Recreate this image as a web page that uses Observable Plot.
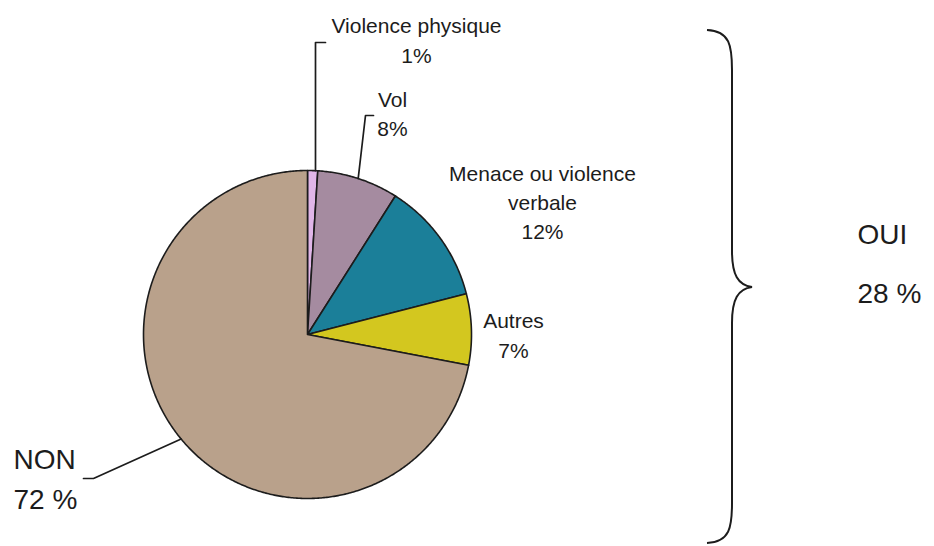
<!DOCTYPE html>
<html><head><meta charset="utf-8">
<script src="https://cdn.jsdelivr.net/npm/d3@7"></script>
<script src="https://cdn.jsdelivr.net/npm/@observablehq/plot@0.6"></script>
<style>html,body{margin:0;padding:0;background:#fff}</style>
</head><body><div id="chart"></div>
<script>
// ---- data ----
const categories = ["Violence physique", "Vol", "Menace ou violence verbale", "Autres", "NON"];
const values = [1, 8, 12, 7, 72];
const labelLines = [["Violence physique", "1%"], ["Vol", "8%"], ["Menace ou violence", "verbale", "12%"], ["Autres", "7%"], ["NON", "72 %"]];
const groupLabel = ["OUI", "28 %"];
const colors = ["#e0b6e8", "#a58ba0", "#1b7f99", "#d3c71f", "#b9a18b"];

// ---- layout (pixels) ----
const W = 934, H = 546, CX = 307, CY = 334, R = 164;
const labelLayout = [
  {x: 416, y: 32, lh: 30, big: false},
  {x: 392, y: 106, lh: 29, big: false},
  {x: 542, y: 180, lh: 29, big: false},
  {x: 513, y: 327, lh: 30, big: false},
  {x: 13, y: 468, lh: 40, big: true}
];
const groupLayout = {x: 857, y: 243, lh: 59};
// leader lines: elbow + tail end (pixels), start is slice mid-angle on the rim
const leaderLayout = [
  {elbow: [315, 42], tail: [325, 42], startX: 315},
  {elbow: [365, 115], tail: [373, 115]},
  null,
  null,
  {elbow: [93, 478], tail: [83, 478]}
];
const brace = {xEnd: 707, xStem: 732, xTip: 752, top: 30, mid: 287, bottom: 543};

const ux = px => (px - CX) / R;
const uy = py => (CY - py) / R;

// ---- slices as polygons in radius units ----
const total = d3.sum(values);
const cum = d3.cumsum(values);
const slices = [];
categories.forEach((c, i) => {
  const a0 = (cum[i] - values[i]) / total * 2 * Math.PI;
  const a1 = cum[i] / total * 2 * Math.PI;
  const n = Math.max(2, Math.ceil((a1 - a0) / (Math.PI / 360)));
  slices.push({cat: c, x: 0, y: 0});
  for (let k = 0; k <= n; k++) {
    const a = a0 + (a1 - a0) * k / n;
    slices.push({cat: c, x: Math.sin(a), y: Math.cos(a)});
  }
  slices.push({cat: c, x: 0, y: 0});
});

// ---- leaders ----
const leaders = [];
categories.forEach((c, i) => {
  const L = leaderLayout[i];
  if (!L) return;
  const am = (cum[i] - values[i] / 2) / total * 2 * Math.PI;
  let sx = Math.sin(am), sy = Math.cos(am);
  if (L.startX !== undefined) { sx = ux(L.startX); sy = Math.sqrt(Math.max(0, 1 - sx * sx)); }
  leaders.push({cat: c, x: sx, y: sy});
  leaders.push({cat: c, x: ux(L.elbow[0]), y: uy(L.elbow[1])});
  leaders.push({cat: c, x: ux(L.tail[0]), y: uy(L.tail[1])});
});

// ---- text rows ----
const smallText = [], bigText = [];
labelLines.forEach((lines, i) => {
  const L = labelLayout[i];
  lines.forEach((t, j) => {
    const row = {text: t, x: ux(L.x), y: uy(L.y + j * L.lh)};
    (L.big ? bigText : smallText).push(row);
  });
});
groupLabel.forEach((t, j) => bigText.push({text: t, x: ux(groupLayout.x), y: uy(groupLayout.y + j * groupLayout.lh)}));

const ink = "#1c1c1c";
const font = "'Liberation Sans', Arial, Helvetica, sans-serif";

function braceMark(index, scales) {
  const X = scales.x, Y = scales.y;
  const b = brace;
  const p = d3.path();
  const px = v => X(ux(v)), py = v => Y(uy(v));
  p.moveTo(px(b.xEnd), py(b.top));
  p.bezierCurveTo(px(b.xStem - 2), py(b.top + 1), px(b.xStem), py(b.top + 16), px(b.xStem), py(b.top + 40));
  p.lineTo(px(b.xStem), py(b.mid - 36));
  p.bezierCurveTo(px(b.xStem), py(b.mid - 12), px(b.xTip - 14), py(b.mid - 2), px(b.xTip), py(b.mid));
  p.bezierCurveTo(px(b.xTip - 14), py(b.mid + 2), px(b.xStem), py(b.mid + 12), px(b.xStem), py(b.mid + 36));
  p.lineTo(px(b.xStem), py(b.bottom - 40));
  p.bezierCurveTo(px(b.xStem), py(b.bottom - 16), px(b.xStem - 2), py(b.bottom - 1), px(b.xEnd), py(b.bottom));
  const el = document.createElementNS("http://www.w3.org/2000/svg", "path");
  el.setAttribute("d", p.toString());
  el.setAttribute("fill", "none");
  el.setAttribute("stroke", ink);
  el.setAttribute("stroke-width", "2");
  return el;
}

const chart = Plot.plot({
  width: W, height: H,
  marginTop: 0, marginRight: 0, marginBottom: 0, marginLeft: 0,
  x: {domain: [ux(0), ux(W)], range: [0, W], axis: null},
  y: {domain: [uy(H), uy(0)], range: [H, 0], axis: null},
  color: {domain: categories, range: colors},
  style: {fontFamily: font, background: "#fff", overflow: "visible"},
  marks: [
    Plot.line(slices, {x: "x", y: "y", z: "cat", fill: "cat", stroke: ink, strokeWidth: 1.6, strokeLinejoin: "round"}),
    Plot.line(leaders, {x: "x", y: "y", z: "cat", stroke: ink, strokeWidth: 1.7}),
    Plot.text(smallText, {x: "x", y: "y", text: "text", fontSize: 21, textAnchor: "middle", lineAnchor: "bottom", fill: ink}),
    Plot.text(bigText, {x: "x", y: "y", text: "text", fontSize: 28, textAnchor: "start", lineAnchor: "bottom", fill: ink}),
    braceMark
  ]
});
document.getElementById("chart").appendChild(chart);
</script>
</body></html>
